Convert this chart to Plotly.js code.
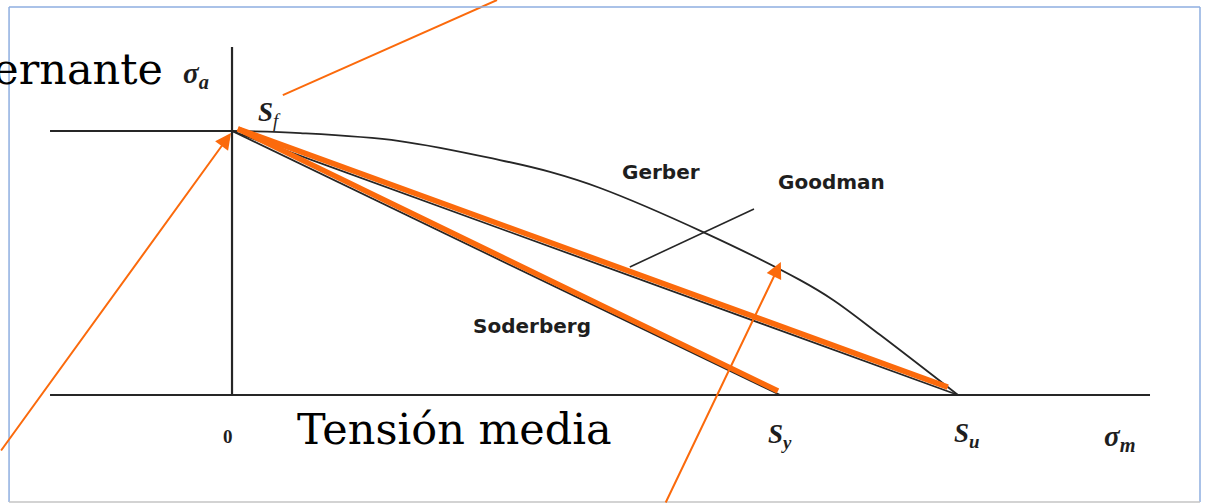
<!DOCTYPE html>
<html>
<head>
<meta charset="utf-8">
<script src="https://cdn.plot.ly/plotly-3.0.1.min.js"></script>
<style>
  body { margin: 0; background: #fff; }
  #chart { width: 1207px; height: 504px; }
</style>
</head>
<body>
<div id="chart"></div>
<script>
// diagram units: x = sigma_m / Su, y = sigma_a / Sf
const axisMX = [-0.2507, 1.2645]
const axisMY = [0, 0]
const axisAX = [0, 0]
const axisAY = [0, 1.318]
const sfTickX = [-0.2507, 0]
const sfTickY = [1, 1]

const gerberX = [0, 0.094, 0.231, 0.369, 0.438, 0.507, 0.649, 0.782, 0.828, 0.893, 1]
const gerberY = [1, 0.992, 0.962, 0.890, 0.845, 0.784, 0.617, 0.436, 0.360, 0.227, 0]
const goodmanX = [0, 1]
const goodmanY = [1, 0]
const soderbergX = [0, 0.755]
const soderbergY = [1, 0]
const markX = [0.548, 0.719]
const markY = [0.485, 0.7045]

const hiGoodmanX = [0.008, 0.986]
const hiGoodmanY = [1.008, 0.030]
const hiSoderbergX = [0.008, 0.752]
const hiSoderbergY = [1.008, 0.015]
const sfPointerX = [0.365, 0.070]
const sfPointerY = [1.496, 1.136]

// arrows: [tailX, tailY, tipX, tipY]
const arrows = [
  [-0.3196, -0.2159, -0.0014, 0.992],
  [0.5964, -0.4129, 0.756, 0.5038]
]

const labels = ["Gerber", "Goodman", "Soderberg"]
const labelX = [0.591, 0.826, 0.413]
const labelY = [0.845, 0.807, 0.262]

const symbols = ["<b><i>σ</i></b><sub><b><i>a</i></b></sub>", "<b><i>S</i></b><sub><i>f</i></sub>", "<b>0</b>",
  "<b><i>S</i></b><sub><b><i>y</i></b></sub>", "<b><i>S</i></b><sub><b><i>u</i></b></sub>", "<b><i>σ</i></b><sub><b><i>m</i></b></sub>"]
const symbolX = [-0.050, 0.051, -0.0055, 0.755, 1.012, 1.222]
const symbolY = [1.212, 1.064, -0.159, -0.155, -0.152, -0.163]
const symbolSize = [29, 27, 19, 27, 27, 29]

const orange = "#fb6a0c"
const ink = "#262626"

function lineTrace(x, y, color, width, shape) {
  return {x: x, y: y, mode: "lines", line: {color: color, width: width, shape: shape || "linear", smoothing: 1}, hoverinfo: "skip"}
}

const data = [
  lineTrace(axisMX, axisMY, ink, 2.2),
  lineTrace(axisAX, axisAY, ink, 2.2),
  lineTrace(sfTickX, sfTickY, ink, 2.2),
  lineTrace(gerberX, gerberY, ink, 1.8, "spline"),
  lineTrace(goodmanX, goodmanY, ink, 1.8),
  lineTrace(soderbergX, soderbergY, ink, 1.8),
  lineTrace(markX, markY, ink, 1.6),
  lineTrace(hiGoodmanX, hiGoodmanY, orange, 5.5),
  lineTrace(hiSoderbergX, hiSoderbergY, orange, 5.5),
  lineTrace(sfPointerX, sfPointerY, orange, 2)
]

const annotations = []
arrows.forEach(a => {
  annotations.push({x: a[2], y: a[3], ax: a[0], ay: a[1], xref: "x", yref: "y", axref: "x", ayref: "y",
    text: "", showarrow: true, arrowhead: 2, arrowsize: 1.6, arrowwidth: 2, arrowcolor: orange})
})
labels.forEach((t, i) => {
  annotations.push({x: labelX[i], y: labelY[i], xref: "x", yref: "y", text: t, showarrow: false,
    font: {family: "DejaVu Sans", size: 20, weight: 600, color: "#1e1e1e"}})
})
symbols.forEach((t, i) => {
  annotations.push({x: symbolX[i], y: symbolY[i], xref: "x", yref: "y", text: t, showarrow: false,
    font: {family: "Liberation Serif", size: symbolSize[i], color: "#1e1e1e"}})
})
annotations.push({x: -0.0924, y: 1.235, xref: "x", yref: "y", xanchor: "right", text: "Tensión alternante",
  showarrow: false, font: {family: "DejaVu Serif", size: 43, color: "#000"}})
annotations.push({x: 0.306, y: -0.13, xref: "x", yref: "y", text: "Tensión media",
  showarrow: false, font: {family: "DejaVu Serif", size: 43, color: "#000"}})

const layout = {
  width: 1207,
  height: 504,
  margin: {l: 0, r: 0, t: 0, b: 0},
  paper_bgcolor: "#fff",
  plot_bgcolor: "#fff",
  showlegend: false,
  xaxis: {range: [-0.3196, 1.3430], visible: false, fixedrange: true},
  yaxis: {range: [-0.4129, 1.4962], visible: false, fixedrange: true},
  annotations: annotations,
  shapes: [
    {type: "line", xref: "paper", yref: "paper", x0: 0.0075, x1: 0.9942, y0: 0.986, y1: 0.986, line: {color: "#8eaee0", width: 1.5}},
    {type: "line", xref: "paper", yref: "paper", x0: 0.0075, x1: 0.0075, y0: 0.004, y1: 0.986, line: {color: "#8eaee0", width: 1.5}},
    {type: "line", xref: "paper", yref: "paper", x0: 0.9942, x1: 0.9942, y0: 0.004, y1: 0.986, line: {color: "#8eaee0", width: 1.5}},
    {type: "line", xref: "paper", yref: "paper", x0: 0.0075, x1: 0.9942, y0: 0.004, y1: 0.004, line: {color: "#c4c4c4", width: 1.5}}
  ]
}

Plotly.newPlot("chart", data, layout, {staticPlot: true})
</script>
</body>
</html>
